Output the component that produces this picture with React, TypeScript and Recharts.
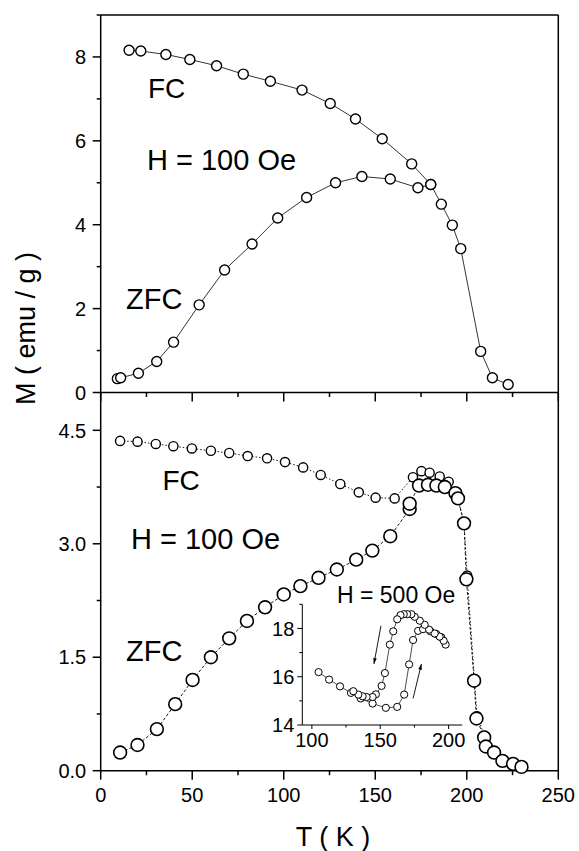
import React from "react";
import { ReferenceLine, Scatter, ScatterChart, XAxis, YAxis } from "recharts";

if (typeof document !== "undefined") document.body.style.margin = "0";

const FONT = "'Liberation Sans', Arial, Helvetica, sans-serif";
const W = 579;
const H = 851;

// upper panel, H = 100 Oe
const topFcT = [15.5, 21.9, 35.6, 48.7, 63.3, 77.9, 92.7, 110.0, 125.4, 139.2, 153.8, 169.9, 180.3, 186.1, 192.1, 196.7, 207.6, 214.0, 222.6];
const topFcM = [8.16, 8.14, 8.06, 7.94, 7.79, 7.59, 7.42, 7.21, 6.89, 6.52, 6.05, 5.45, 4.96, 4.49, 3.99, 3.43, 0.98, 0.35, 0.19];
const topZfcT = [9.1, 10.9, 20.6, 30.6, 39.8, 53.8, 67.7, 82.7, 96.7, 112.5, 128.3, 142.7, 158.2, 173.3, 180.3];
const topZfcM = [0.33, 0.35, 0.46, 0.74, 1.2, 2.09, 2.92, 3.54, 4.16, 4.65, 5.0, 5.15, 5.09, 4.88, 4.96];

// lower panel, H = 100 Oe
const botFcT = [10.6, 20.1, 30.1, 39.7, 49.8, 60.2, 70.2, 80.3, 90.9, 100.7, 110.6, 120.2, 130.9, 141.0, 150.2, 160.6, 170.6, 175.2, 179.7, 185.2, 190.1, 194.3, 198.5, 200.2, 205.6, 209.8, 214.6, 219.2, 225.0, 230.3];
const botFcM = [4.36, 4.35, 4.32, 4.29, 4.26, 4.23, 4.2, 4.16, 4.13, 4.08, 4.01, 3.91, 3.79, 3.68, 3.61, 3.6, 3.88, 3.96, 3.94, 3.89, 3.82, 3.67, 3.27, 2.58, 0.72, 0.46, 0.26, 0.15, 0.09, 0.05];
const botZfcT = [10.6, 20.1, 30.7, 40.7, 50.2, 60.2, 70.2, 79.9, 89.8, 100.0, 109.1, 119.0, 129.0, 139.6, 148.4, 158.2, 168.8, 168.8, 173.9, 178.8, 183.4, 188.0, 193.8, 195.2, 198.5, 199.8, 204.0, 205.3, 209.5, 210.4, 214.9, 219.5, 225.3, 229.9];
const botZfcM = [0.24, 0.34, 0.55, 0.88, 1.2, 1.5, 1.75, 1.98, 2.16, 2.33, 2.44, 2.55, 2.66, 2.79, 2.91, 3.1, 3.46, 3.53, 3.77, 3.78, 3.77, 3.75, 3.67, 3.6, 3.27, 2.53, 1.19, 0.69, 0.44, 0.32, 0.24, 0.13, 0.09, 0.05];

// inset, H = 500 Oe
const inCoolT = [197.8, 196.4, 193.4, 189.8, 185.7, 182.5, 178.9, 175.2, 172.8, 169.7, 167.2, 164.8, 162.4, 159.5, 157.0, 153.4, 151.0, 146.8, 144.4, 140.0, 137.1, 134.0, 130.3];
const inCoolM = [17.33, 17.49, 17.66, 17.79, 17.95, 18.15, 18.32, 18.48, 18.59, 18.59, 18.59, 18.55, 18.38, 17.88, 17.33, 16.15, 15.62, 15.27, 15.16, 15.16, 15.19, 15.26, 15.4];
const inWarmT = [104.9, 112.6, 120.6, 128.6, 135.7, 144.4, 154.1, 162.4, 167.5, 171.1, 174.0, 177.7, 181.3, 186.7, 191.0, 194.7];
const inWarmM = [16.19, 15.88, 15.6, 15.33, 15.1, 14.89, 14.71, 14.75, 15.26, 16.51, 17.52, 17.9, 17.97, 17.88, 17.77, 17.63];

const xTicks = [0, 25, 50, 75, 100, 125, 150, 175, 200, 225, 250];
const xMajor = [0, 50, 100, 150, 200, 250];
const topYTicks = [0, 1, 2, 3, 4, 5, 6, 7, 8, 9];
const topYMajor = [0, 2, 4, 6, 8];
const botYTicks = [0, 0.75, 1.5, 2.25, 3, 3.75, 4.5];
const botYMajor = [0, 1.5, 3, 4.5];
const inXTicks = [100, 125, 150, 175, 200];
const inXMajor = [100, 150, 200];
const inYTicks = [14, 15, 16, 17, 18, 19];
const inYMajor = [14, 16, 18];

const zip = (t: number[], m: number[]) => t.map((v, i) => ({ t: v, m: m[i] }));

type TickCfg = {
  side: "left" | "right" | "top" | "bottom";
  major: number[];
  majorLen: number;
  minorLen: number;
  label?: (v: number) => string;
  fontSize?: number;
  gap?: number;
  width?: number;
};

function makeTick(c: TickCfg) {
  return (props: any) => {
    const { x, y, payload } = props;
    const v = payload.value as number;
    const isMajor = c.major.some((m) => Math.abs(m - v) < 1e-6);
    const len = isMajor ? c.majorLen : c.minorLen;
    const sw = c.width ?? 1.5;
    const fs = c.fontSize ?? 20;
    const gap = c.gap ?? 14;
    let line;
    let text = null;
    if (c.side === "left" || c.side === "right") {
      const s = c.side === "left" ? -1 : 1;
      line = <line x1={x} y1={y} x2={x + s * len} y2={y} stroke="#000" strokeWidth={sw} />;
      if (c.label && isMajor)
        text = (
          <text x={x - gap} y={y} dy="0.36em" textAnchor="end" fontSize={fs} fontFamily={FONT} fill="#000">
            {c.label(v)}
          </text>
        );
    } else {
      const s = c.side === "top" ? -1 : 1;
      line = <line x1={x} y1={y} x2={x} y2={y + s * len} stroke="#000" strokeWidth={sw} />;
      if (c.label && isMajor)
        text = (
          <text x={x} y={y + gap} textAnchor="middle" fontSize={fs} fontFamily={FONT} fill="#000">
            {c.label(v)}
          </text>
        );
    }
    return (
      <g>
        {line}
        {text}
      </g>
    );
  };
}

const ring = (r: number, sw: number) => (props: any) =>
  <circle cx={props.cx} cy={props.cy} r={r} fill="#fff" stroke="#000" strokeWidth={sw} />;

const arrowShape = (props: any) => {
  const { x1, y1, x2, y2 } = props;
  const a = Math.atan2(y2 - y1, x2 - x1);
  const L = 6;
  const hx1 = x2 - L * Math.cos(a - 0.3);
  const hy1 = y2 - L * Math.sin(a - 0.3);
  const hx2 = x2 - L * Math.cos(a + 0.3);
  const hy2 = y2 - L * Math.sin(a + 0.3);
  return (
    <g>
      <line x1={x1} y1={y1} x2={x2} y2={y2} stroke="#000" strokeWidth={0.9} />
      <polygon points={`${x2},${y2} ${hx1},${hy1} ${hx2},${hy2}`} fill="#000" />
    </g>
  );
};

const axisLine = { stroke: "#000", strokeWidth: 1.5 };
const layer: React.CSSProperties = { position: "absolute", left: 0, top: 0 };

// plot box: x from 100.7 to 558.3; axes get 1px of room so they are drawn
const PL = 100.7;
const PR = 558.3;

function Panel(props: {
  top: number;
  bottom: number;
  yDomain: [number, number];
  yTicks: number[];
  yMajor: number[];
  yFmt: (v: number) => string;
  rightInward: boolean;
  withTop: boolean;
  xLabels: boolean;
  children: React.ReactNode;
}) {
  const p = props;
  return (
    <div style={layer}>
      <ScatterChart
        width={W}
        height={H}
        margin={{ top: p.withTop ? p.top - 1 : p.top, bottom: H - p.bottom - 1, left: PL - 1, right: W - PR - 1 }}
      >
        <XAxis
          xAxisId="b"
          dataKey="t"
          type="number"
          domain={[0, 250]}
          ticks={xTicks}
          interval={0}
          height={1}
          tickSize={0}
          tickMargin={0}
          axisLine={axisLine}
          tickLine={false}
          tick={makeTick({
            side: "bottom",
            major: xMajor,
            majorLen: 9,
            minorLen: 4.5,
            label: p.xLabels ? (v) => String(v) : undefined,
            gap: 31.5,
          })}
        />
        {p.withTop && (
          <XAxis
            xAxisId="t"
            orientation="top"
            type="number"
            domain={[0, 250]}
            ticks={xTicks}
            interval={0}
            height={1}
            tickSize={0}
            tickMargin={0}
            axisLine={axisLine}
            tickLine={false}
            tick={makeTick({ side: "top", major: xMajor, majorLen: 4, minorLen: 3 })}
          />
        )}
        <YAxis
          yAxisId="l"
          dataKey="m"
          type="number"
          domain={p.yDomain}
          ticks={p.yTicks}
          interval={0}
          width={1}
          tickSize={0}
          tickMargin={0}
          axisLine={axisLine}
          tickLine={false}
          tick={makeTick({ side: "left", major: p.yMajor, majorLen: 8, minorLen: 4, label: p.yFmt, gap: 14.5 })}
        />
        <YAxis
          yAxisId="r"
          orientation="right"
          type="number"
          domain={p.yDomain}
          ticks={p.yTicks.slice(1)}
          interval={0}
          width={1}
          tickSize={0}
          tickMargin={0}
          axisLine={axisLine}
          tickLine={false}
          tick={makeTick(
            p.rightInward
              ? { side: "left", major: p.yMajor, majorLen: 9, minorLen: 9 }
              : { side: "right", major: p.yMajor, majorLen: 4, minorLen: 3 }
          )}
        />
        {p.children}
      </ScatterChart>
    </div>
  );
}

export default function App() {
  return (
    <div style={{ position: "relative", width: W, height: H, background: "#fff", overflow: "hidden" }}>
      <Panel
        top={15}
        bottom={392.5}
        yDomain={[0, 9]}
        yTicks={topYTicks}
        yMajor={topYMajor}
        yFmt={(v) => String(v)}
        rightInward={false}
        withTop={true}
        xLabels={false}
      >
        <Scatter
          xAxisId="b"
          yAxisId="l"
          data={zip(topZfcT, topZfcM)}
          line={{ stroke: "#000", strokeWidth: 0.8 }}
          lineType="joint"
          shape={ring(5, 1.4)}
          isAnimationActive={false}
        />
        <Scatter
          xAxisId="b"
          yAxisId="l"
          data={zip(topFcT, topFcM)}
          line={{ stroke: "#000", strokeWidth: 0.8 }}
          lineType="joint"
          shape={ring(5, 1.4)}
          isAnimationActive={false}
        />
      </Panel>
      <Panel
        top={392.5}
        bottom={770.7}
        yDomain={[0, 5]}
        yTicks={botYTicks}
        yMajor={botYMajor}
        yFmt={(v) => v.toFixed(1)}
        rightInward={true}
        withTop={false}
        xLabels={true}
      >
        <Scatter
          xAxisId="b"
          yAxisId="l"
          data={zip(botFcT, botFcM)}
          line={{ stroke: "#000", strokeWidth: 0.9, strokeDasharray: "1.5 2" }}
          lineType="joint"
          shape={ring(4.6, 1.4)}
          isAnimationActive={false}
        />
        <Scatter
          xAxisId="b"
          yAxisId="l"
          data={zip(botZfcT, botZfcM)}
          line={{ stroke: "#000", strokeWidth: 0.9, strokeDasharray: "3 2" }}
          lineType="joint"
          shape={ring(6.4, 1.6)}
          isAnimationActive={false}
        />
      </Panel>
      <div style={layer}>
        <ScatterChart width={W} height={H} margin={{ top: 604.3, bottom: H - 725 - 1, left: 302.3 - 1, right: W - 462.3 }}>
          <XAxis
            dataKey="t"
            type="number"
            domain={[93, 210]}
            ticks={inXTicks}
            interval={0}
            height={1}
            tickSize={0}
            tickMargin={0}
            axisLine={{ stroke: "#000", strokeWidth: 1 }}
            tickLine={false}
            tick={makeTick({ side: "bottom", major: inXMajor, majorLen: 4, minorLen: 2.5, label: (v) => String(v), gap: 21.5, width: 1 })}
          />
          <YAxis
            dataKey="m"
            type="number"
            domain={[14, 19]}
            ticks={inYTicks}
            interval={0}
            width={1}
            tickSize={0}
            tickMargin={0}
            axisLine={{ stroke: "#000", strokeWidth: 1 }}
            tickLine={false}
            tick={makeTick({ side: "left", major: inYMajor, majorLen: 5, minorLen: 3, label: (v) => String(v), gap: 8, width: 1 })}
          />
          <Scatter
            data={zip(inWarmT, inWarmM)}
            line={{ stroke: "#000", strokeWidth: 0.7 }}
            lineType="joint"
            shape={ring(3.6, 1)}
            isAnimationActive={false}
          />
          <Scatter
            data={zip(inCoolT, inCoolM)}
            line={{ stroke: "#000", strokeWidth: 0.7 }}
            lineType="joint"
            shape={ring(3.6, 1)}
            isAnimationActive={false}
          />
          <ReferenceLine segment={[{ x: 150.5, y: 18.11 }, { x: 145.4, y: 16.53 }]} shape={arrowShape} />
          <ReferenceLine segment={[{ x: 174.0, y: 15.1 }, { x: 180.1, y: 16.53 }]} shape={arrowShape} />
        </ScatterChart>
      </div>
      <svg width={W} height={H} style={{ ...layer, pointerEvents: "none" }} fontFamily={FONT}>
        <text x={148} y={98.3} fontSize={28}>FC</text>
        <text x={147} y={170} fontSize={29}>H = 100 Oe</text>
        <text x={126} y={309.3} fontSize={29}>ZFC</text>
        <text x={162.5} y={490} fontSize={28}>FC</text>
        <text x={131} y={549.3} fontSize={29}>H = 100 Oe</text>
        <text x={126} y={661} fontSize={29}>ZFC</text>
        <text x={337} y={602.7} fontSize={23}>H = 500 Oe</text>
        <text transform="translate(35,405) rotate(-90)" fontSize={27}>M ( emu / g )</text>
        <text x={333} y={846} fontSize={27} textAnchor="middle">T ( K )</text>
      </svg>
    </div>
  );
}
